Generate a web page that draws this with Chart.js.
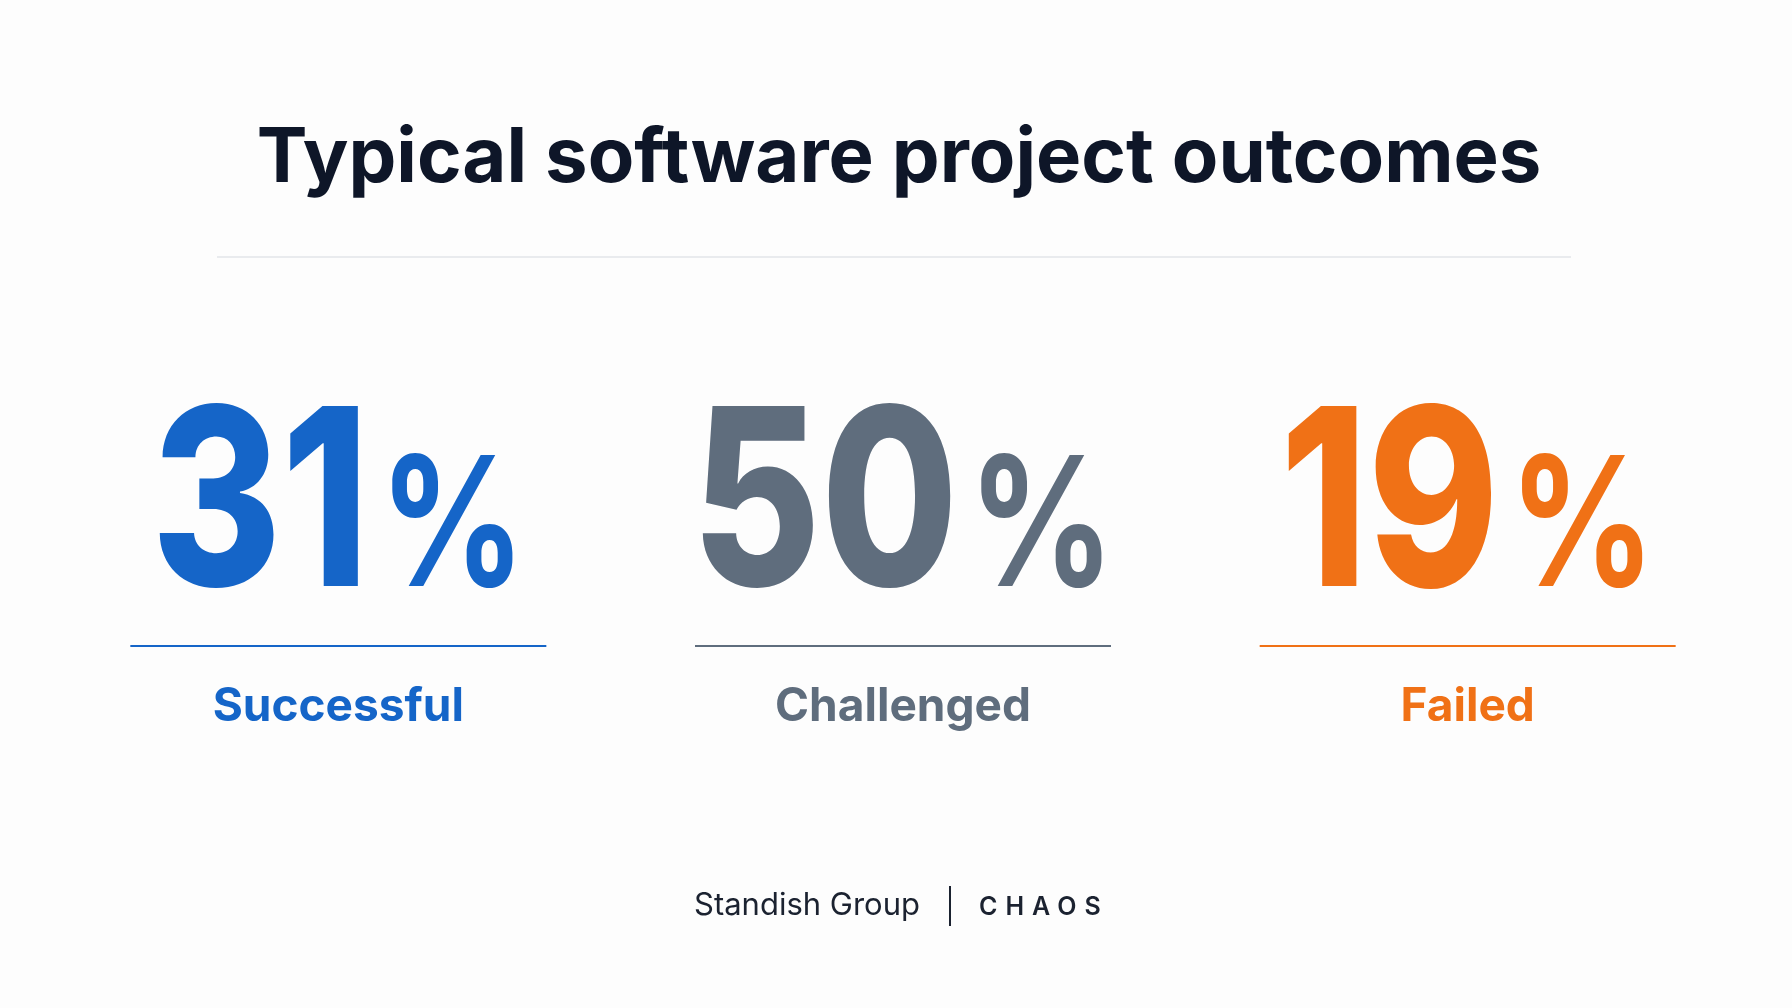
<!DOCTYPE html>
<html>
<head>
<meta charset="utf-8">
<script src="https://cdn.jsdelivr.net/npm/chart.js@4/dist/chart.umd.min.js"></script>
<style>
  html, body { margin: 0; padding: 0; background: #fdfdfd; }
  #wrap { width: 1792px; height: 1008px; }
</style>
</head>
<body>
<div id="wrap"><canvas id="outcomes"></canvas></div>
<script>
const categories = ['Successful', 'Challenged', 'Failed'];
const shares = [31, 50, 19];
const colors = ['#1565c8', '#5f6d7d', '#f07116'];
const titleText = 'Typical software project outcomes';
const sourceText = 'Standish Group';
const reportText = 'CHAOS';

const FONT = 'Inter, "Noto Sans", sans-serif';
const SQUEEZE = 0.8; // digits in the reference are narrower than Inter

// draws the big numbers, rules, labels and footer at the category centres
const bigNumbers = {
    id: 'bigNumbers',
    afterDatasetsDraw(chart) {
        const ctx = chart.ctx;
        const x = chart.scales.x;
        ctx.save();

        // rule under the title
        ctx.strokeStyle = '#e2e4e8';
        ctx.lineWidth = 1.5;
        ctx.beginPath();
        ctx.moveTo(217, 257);
        ctx.lineTo(1571, 257);
        ctx.stroke();

        shares.forEach((v, i) => {
            const cx = x.getPixelForValue(i) + 4;
            const num = String(v);
            ctx.fillStyle = colors[i];
            ctx.textBaseline = 'alphabetic';
            ctx.font = '800 248px ' + FONT;
            const wNum = ctx.measureText(num).width * SQUEEZE;
            ctx.font = '700 180px ' + FONT;
            const wPct = ctx.measureText('%').width * SQUEEZE;
            const start = cx - (wNum + wPct + 10) / 2;
            ctx.textAlign = 'left';
            ctx.save();
            ctx.translate(start, 586);
            ctx.scale(SQUEEZE, 1);
            ctx.font = '800 248px ' + FONT;
            ctx.fillText(num, 0, 0);
            ctx.font = '700 180px ' + FONT;
            ctx.fillText('%', (wNum + 10) / SQUEEZE, 0);
            ctx.restore();

            ctx.strokeStyle = colors[i];
            ctx.lineWidth = 2;
            ctx.beginPath();
            ctx.moveTo(cx - 208, 646);
            ctx.lineTo(cx + 208, 646);
            ctx.stroke();

            ctx.textAlign = 'center';
            ctx.textBaseline = 'middle';
            ctx.font = '700 46px ' + FONT;
            ctx.fillText(categories[i], cx, 707);
        });

        // footer
        ctx.textBaseline = 'middle';
        ctx.fillStyle = '#1b2230';
        ctx.font = '400 31px ' + FONT;
        ctx.textAlign = 'right';
        ctx.fillText(sourceText, 920, 906);
        ctx.strokeStyle = '#1b2230';
        ctx.lineWidth = 2;
        ctx.beginPath();
        ctx.moveTo(950, 886);
        ctx.lineTo(950, 926);
        ctx.stroke();
        ctx.textAlign = 'left';
        ctx.font = '600 25px ' + FONT;
        ctx.letterSpacing = '8px';
        ctx.fillText(reportText, 979, 907);
        ctx.restore();
    }
};

new Chart(document.getElementById('outcomes').getContext('2d'), {
    type: 'bar',
    data: {
        labels: categories,
        datasets: [{
            data: shares,
            backgroundColor: 'rgba(0,0,0,0)',
            borderWidth: 0
        }]
    },
    options: {
        responsive: true,
        maintainAspectRatio: false,
        animation: false,
        layout: { padding: { left: 52, right: 46, top: 0, bottom: 0 } },
        plugins: {
            legend: { display: false },
            tooltip: { enabled: false },
            title: {
                display: true,
                text: titleText,
                color: '#0e1628',
                font: { family: FONT, size: 76, weight: '700' },
                padding: { top: 114, bottom: 0 }
            }
        },
        scales: {
            x: { display: false, offset: true },
            y: { display: false, min: 0, max: 100 }
        }
    },
    plugins: [bigNumbers]
});
</script>
</body>
</html>
